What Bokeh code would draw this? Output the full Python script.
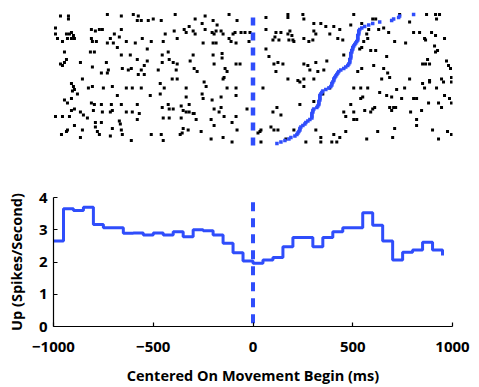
from bokeh.plotting import figure
from bokeh.layouts import column
from bokeh.models import FixedTicker
from bokeh.embed import file_html
from bokeh.resources import INLINE

BLUE = "#2f4dfb"
FONT = "Open Sans"

# raster: (time ms, trial index)
spikes = [
    (-965,85),(-925,85),(-925,83),(-730,86),(-660,85),(-600,86),(-575,85),(-580,82),(-560,82),(-525,82),
    (-990,77),(-990,73),(-980,70),(-955,68),
    (-935,73),(-920,73),(-910,74),(-900,72),(-895,70),(-910,70),(-930,70),
    (-810,76),(-790,75),(-770,76),(-755,76),
    (-810,70),(-805,68),(-785,68),
    (-695,73),(-715,70),(-730,67),(-700,67),
    (-660,76),(-670,71),(-635,68),(-590,67),(-555,70),(-510,68),(-530,63),
    (-945,61),(-815,61),(-795,61),(-680,64),(-660,59),(-615,59),(-580,56),(-530,55),(-545,52),
    (-935,56),(-945,54),(-965,53),(-955,52),(-865,54),(-805,51),(-735,54),
    (-725,49),(-730,47),(-760,47),(-655,50),(-625,49),(-610,50),(-560,49),(-575,46),(-545,46),(-855,43),
    (-500,83),(-460,82),(-390,86),(-290,83),(-240,85),(-255,80),(-200,82),(-120,86),(-80,82),(-320,78),(-180,79),
    (-440,73),(-395,75),(-345,76),(-335,74),(-300,75),(-290,73),(-240,76),
    (-205,74),(-185,75),(-160,75),(-150,73),(-195,73),(-100,73),(-90,74),(-60,74),(-40,74),(-15,74),
    (-20,68),(-120,70),(-110,68),(-85,67),(-380,70),(-450,68),(-250,67),(-200,67),(-185,67),
    (-455,59),(-425,61),(-420,56),(-400,54),(-380,53),(-475,49),(-455,54),(-315,55),(-300,59),(-200,59),
    (-155,60),(-155,57),(-195,53),(-85,53),(-65,53),(-295,50),(-280,48),(-385,49),(-140,50),(-130,48),(-145,44),(-405,43),(-380,43),
    (65,84),(175,86),(175,84),(250,86),(255,83),(305,80),(340,80),(365,78),(405,78),(435,76),(490,79),(505,86),
    (65,76),(115,74),(140,74),(110,71),(130,69),(100,69),
    (175,73),(185,75),(195,72),(200,69),(180,69),(205,68),
    (255,70),(280,68),(300,69),(315,73),(305,75),(385,73),(425,70),(450,69),
    (65,63),(80,58),(105,53),(125,54),(150,53),(115,48),(255,53),(275,52),(285,49),(315,54),(325,48),(355,49),(370,55),
    (455,59),
    (600,83),(615,83),(545,80),(570,73),(580,76),(575,70),(555,68),(545,64),(535,63),(630,76),(680,74),(655,77),(710,68),(765,67),(785,81),(735,86),
    (870,86),(915,86),(935,86),(920,83),(805,74),(835,74),(860,70),(865,69),(895,74),(915,72),(960,70),(910,65),(925,62),(915,61),
    (590,62),(615,62),(670,58),(875,56),(865,53),(885,53),(850,53),(970,55),(980,52),(990,50),(995,44),
    (545,50),(525,48),(605,52),(655,50),(675,47),(685,44),(645,43),(785,43),(945,43),
    (-910,40),(-900,38),(-895,36),(-880,33),(-905,35),(-825,37),(-805,38),(-750,37),(-705,38),(-680,32),(-635,37),(-605,37),(-560,37),(-515,32),
    (-945,29),(-930,27),(-910,30),(-810,27),(-795,26),(-800,22),(-760,26),(-755,21),(-710,26),(-705,22),(-715,21),(-660,26),(-580,26),
    (-895,23),(-910,22),(-865,21),(-850,19),(-830,17),(-635,21),(-605,21),(-570,20),(-990,18),(-955,18),(-920,18),
    (-580,16),(-670,15),(-665,13),(-790,14),(-790,11),(-780,8),(-760,14),(-895,12),(-855,9),(-930,9),(-935,8),(-960,6),
    (-705,10),(-660,9),(-655,6),(-770,6),(-715,5),(-865,4),(-610,2),(-510,6),
    (-465,40),(-465,33),(-445,37),(-245,41),(-235,38),(-150,43),(-130,37),(-85,37),(-85,32),(-335,37),(-335,31),(-255,33),(-250,30),(-205,29),(-160,31),
    (-455,24),(-425,26),(-420,23),(-400,23),(-360,25),(-350,22),(-335,21),(-320,26),(-320,21),(-300,20),(-295,20),(-195,23),(-160,24),(-170,21),
    (-450,17),(-420,17),(-360,17),(-285,16),(-210,16),(-145,18),(-105,14),(-85,18),(-195,12),
    (-350,10),(-355,7),(-365,6),(-325,9),(-260,8),(-80,9),(-460,6),(-450,2),(-210,3),(-150,4),(-105,1),(-30,23),
    (175,43),(225,42),(255,43),(305,43),(235,41),(255,38),(385,37),(50,37),(505,37),(350,33),(305,28),(235,26),(120,24),(100,21),(140,19),
    (490,26),(505,21),(455,21),(465,18),(505,16),(90,11),(105,9),(125,9),(40,9),(35,8),(25,7),(40,1),(205,9),(315,9),(340,4),(465,8),
    (405,6),(435,4),(165,3),(265,1),(340,1),(395,1),(420,1),
    (850,40),(885,41),(885,42),(955,41),(995,41),(540,37),(575,37),(635,34),(670,32),(695,31),(720,36),(760,37),(860,37),(920,37),(960,32),
    (985,30),(540,30),(550,31),(745,30),(805,30),(820,30),(880,27),(930,27),(945,24),(995,27),
    (560,22),(600,23),(610,24),(590,21),(685,24),(695,22),(705,24),(715,24),(790,21),(845,22),(820,16),(820,12),(520,16),(710,10),
    (900,9),(975,8),(995,6),(625,8),(700,4),(570,3),(930,3),
]

# sorted per-trial event time (ms), trial 0 at bottom
sort_times = [
    120,140,160,180,190,210,220,225,230,235,235,240,250,260,265,275,285,295,295,295,
    295,300,300,305,320,325,330,330,330,335,335,335,335,340,345,350,365,380,390,395,
    395,400,405,405,410,415,420,425,430,440,455,465,475,480,485,485,485,490,490,490,
    490,495,495,500,500,505,510,515,520,525,525,525,525,530,530,530,535,545,560,580,
    600,635,695,705,730,735,805,
]

# PSTH (50 ms bins)
bin_starts = [-1000,-950,-900,-850,-800,-750,-700,-650,-600,-550,-500,-450,-400,-350,-300,-250,-200,-150,-100,-50,
              0,50,100,150,200,250,300,350,400,450,500,550,600,650,700,750,800,850,900,950]
rates = [2.65,3.65,3.60,3.70,3.16,3.06,3.06,2.89,2.90,2.84,2.90,2.84,2.94,2.78,3.00,2.97,2.84,2.58,2.29,2.03,
         1.96,2.06,2.14,2.47,2.76,2.76,2.47,2.76,2.94,3.06,3.06,3.53,3.14,2.65,2.06,2.30,2.37,2.61,2.37,2.20]

x_ticks = [-1000, -500, 0, 500, 1000]
x_tick_labels = ["\u22121000", "\u2212500", "0", "500", "1000"]
y_ticks = [0, 1, 2, 3, 4]

# ---------- raster ----------
top = figure(width=479, height=168, x_range=(-1000, 1000), y_range=(-3.333, 88.667),
             output_backend="svg", toolbar_location=None,
             min_border_left=53, min_border_right=27, min_border_top=10, min_border_bottom=20)
top.axis.visible = False
top.grid.visible = False
top.outline_line_color = None
top.scatter([s[0] for s in spikes], [s[1] for s in spikes], marker="square", size=3,
            fill_color="black", line_color=None)
top.scatter(sort_times, list(range(len(sort_times))), marker="square", size=3.5,
            fill_color=BLUE, line_color=None)
top.line([0, 0], [-1.333, 87.333], line_dash="8 7", line_width=4.5, line_color=BLUE)

# ---------- PSTH ----------
bot = figure(width=479, height=219, x_range=(-1000, 1000), y_range=(0, 4),
             output_backend="svg", toolbar_location=None,
             min_border_left=53, min_border_right=27, min_border_top=29, min_border_bottom=60)
bot.grid.visible = False
bot.outline_line_color = None
bot.step(bin_starts, rates, mode="after", line_width=3, line_color=BLUE)
bot.line([0, 0], [3.85, 0], line_dash="9 7", line_width=4, line_color=BLUE)

bot.xaxis.ticker = FixedTicker(ticks=x_ticks)
bot.xaxis.major_label_overrides = dict(zip(x_ticks, x_tick_labels))
bot.yaxis.ticker = FixedTicker(ticks=y_ticks)
for ax in (bot.xaxis[0], bot.yaxis[0]):
    ax.minor_tick_line_color = None
    ax.major_tick_in = 4
    ax.major_tick_out = 0
    ax.axis_line_color = "black"
    ax.axis_line_width = 1.2
    ax.major_tick_line_color = "black"
    ax.major_tick_line_width = 1.2
    ax.major_label_text_font = FONT
    ax.major_label_text_font_style = "bold"
    ax.major_label_text_font_size = "15px"
    ax.major_label_text_color = "black"
    ax.axis_label_text_font = FONT
    ax.axis_label_text_font_style = "bold"
    ax.axis_label_text_font_size = "14.5px"
    ax.axis_label_text_color = "black"

bot.xaxis.axis_label = "Centered On Movement Begin (ms)"
bot.xaxis.major_label_standoff = 15
bot.xaxis.axis_label_standoff = 11
bot.yaxis.axis_label = "Up (Spikes/Second)"
bot.yaxis.major_label_standoff = 6
bot.yaxis.axis_label_standoff = 10

layout = column(top, bot)
open("out.html", "w").write(file_html(layout, INLINE))
